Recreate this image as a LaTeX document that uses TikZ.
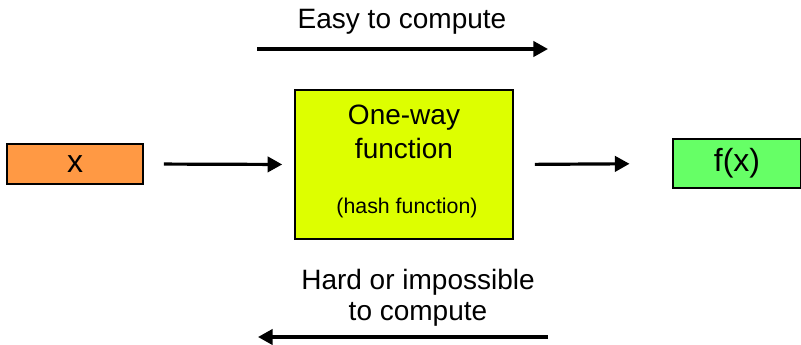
\documentclass[tikz,border=0pt]{standalone}
\usepackage{fontspec}
\setmainfont{Liberation Sans}
\usetikzlibrary{arrows.meta}

\definecolor{inorange}{RGB}{255,153,68}
\definecolor{fungreen}{RGB}{221,255,0}
\definecolor{outgreen}{RGB}{102,255,102}

\begin{document}
\begin{tikzpicture}[x=0.75pt,y=-0.75pt,
  box/.style={draw=black,line width=1.2pt,inner sep=0pt},
  arr/.style={line width=2.4pt,-{Triangle[length=11pt,width=11.5pt]}},
  big/.style={font=\fontsize{24}{28}\selectfont},
  mid/.style={font=\fontsize{21}{25}\selectfont},
  small/.style={font=\fontsize{16}{19}\selectfont}]

\useasboundingbox (0,0) rectangle (801,344);

% the three boxes
\node[box,fill=inorange,minimum width=102pt,minimum height=30pt] (xin) at (75,164) {};
\node[big] (xtxt) at (75,164) {x};

\node[box,fill=fungreen,minimum width=163.5pt,minimum height=111.75pt] (oneway) at (404,164.5) {};
\node[mid,anchor=base] (ow1) at (404,124) {One-way};
\node[mid,anchor=base] (ow2) at (404,158) {function};
\node[small,anchor=base] (hash) at (407,213) {(hash function)};

\node[box,fill=outgreen,minimum width=96pt,minimum height=36.75pt] (fx) at (737,163.5) {};
\node[big] (fxtxt) at (737,163.5) {f(x)};

% arrows between the boxes
\draw[arr,shorten <=15pt,shorten >=9pt] (xin.east) -- (oneway.west);
\draw[arr,shorten <=15.75pt,shorten >=32pt] (oneway.east) -- (fx.west);

% easy direction
\coordinate (easyL) at (257,49);
\coordinate (easyR) at (548,49);
\draw[arr] (easyL) -- (easyR);
\node[mid,anchor=base] (easy) at (402,28) {Easy to compute};

% hard direction
\coordinate (hardL) at (258,337);
\coordinate (hardR) at (548,337);
\draw[arr] (hardR) -- (hardL);
\node[mid,anchor=base] (hard1) at (418,289) {Hard or impossible};
\node[mid,anchor=base] (hard2) at (418,320) {to compute};

\end{tikzpicture}
\end{document}
